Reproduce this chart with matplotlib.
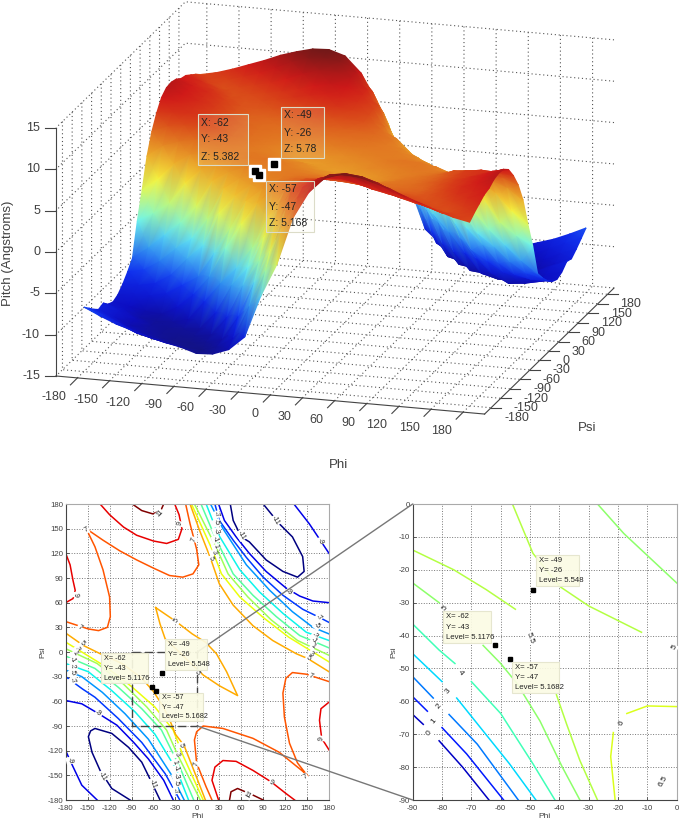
import numpy as np
import matplotlib
matplotlib.use('Agg')
import matplotlib.pyplot as plt
from matplotlib.colors import LinearSegmentedColormap, Normalize
from matplotlib.patches import ConnectionPatch, Rectangle
from mpl_toolkits.mplot3d import proj3d

plt.rcParams['font.family'] = ['Liberation Sans', 'DejaVu Sans']
plt.rcParams['axes.unicode_minus'] = False

W, H = 681, 821
TEXT = '#404040'

phi = [-180, -165, -150, -135, -120, -105, -90, -75, -60, -45, -30, -15, 0,
       15, 30, 45, 60, 75, 90, 105, 120, 135, 150, 165, 180]
psi = list(phi)
pitch = [
    [-7.2, -8.1, -8.9, -9.5, -10.1, -10.6, -11, -11.6, -11.5, -10.8, -9.1, -4, 0, 5.8, 9.1, 11, 11.6, 11.5, 11, 10.4, 9.6, 8.9, 8.2, 7.6, 7.2],
    [-7.9, -8.7, -9.5, -10.4, -10.9, -11.3, -11.6, -11.8, -11.2, -10, -6, -1.6, 3.8, 7.6, 9.7, 10.8, 11.1, 10.9, 10.3, 9.4, 8.6, 8, 7.4, 7.4, 7.8],
    [-8.6, -9.4, -10.3, -10.9, -11.3, -11.6, -11.7, -11.4, -10.9, -8, -3.7, 0.4, 5.7, 8.3, 9.6, 10.2, 10.2, 9.6, 8.8, 8.2, 7.7, 7.3, 7, 7.6, 8.3],
    [-9.2, -10, -10.8, -11.1, -11.4, -11.5, -11.4, -11.1, -8.8, -4.8, -1.7, 3.3, 7.2, 8.3, 9.1, 9.3, 8.9, 8.3, 7.9, 7.5, 7.2, 7, 7.5, 8.2, 8.8],
    [-9, -9.8, -10.6, -11.2, -11.4, -11.3, -11.1, -9, -5.5, -3.2, 0.7, 5, 7.3, 8, 8.5, 8.6, 8.3, 7.9, 7.4, 7.1, 6.9, 7.2, 7.9, 8.4, 9],
    [-9.7, -10.2, -11, -11.3, -11.2, -10.7, -8.4, -6, -4, -1.3, 2.7, 5.9, 7.2, 7.6, 7.9, 7.7, 7.3, 7, 6.8, 6.7, 6.9, 7.5, 8.2, 8.8, 9.5],
    [-10, -10.4, -10.8, -11, -10, -8.3, -6, -2.4, 0.8, 3.5, 5.3, 6.2, 6.9, 7.1, 7.05, 6.9, 6.7, 6.5, 6.4, 6.5, 6.9, 7.6, 8.2, 8.9, 9.7],
    [-9.7, -9.5, -9.5, -9.1, -7.9, -6.7, -3.7, -0.5, 3, 4.6, 5.7, 6.2, 6.4, 6.5, 6.5, 6.3, 6.2, 6.1, 6.2, 6.4, 7, 7.7, 8.3, 8.9, 9.6],
    [-9, -9, -8.6, -7.4, -5.3, -3.5, 0.6, 2.9, 4.4, 5.3, 5.65, 5.9, 5.95, 6, 6, 5.9, 5.9, 5.9, 6.1, 6.5, 7, 7.6, 8, 8.6, 9],
    [-8.1, -7.7, -6.5, -4.8, -3.4, -0.8, 3, 4.4, 5.2, 5.5, 5.6, 5.6, 5.6, 5.5, 5.2, 5, 5.5, 5.8, 6, 6.4, 6.9, 7.7, 8, 7.9, 7.7],
    [-7, -5.6, -3.9, -2.2, 0, 3.2, 4.4, 5.2, 5.45, 5.5, 5.5, 5.3, 5.1, 4.9, 4.9, 4.8, 5.2, 5.6, 5.9, 6.3, 7, 7.2, 7.1, 6.8, 6],
    [-3.1, -2, -0.6, 2, 3.9, 4.7, 5.4, 5.7, 5.8, 5.6, 5.2, 5, 4.85, 4.5, 4.3, 4.9, 5.3, 5.5, 5.7, 6, 6.1, 6.1, 5.7, 5, 3.6],
    [0.1, 1.6, 3.6, 4.9, 5.2, 5.5, 5.6, 5.7, 5.5, 5.2, 5.05, 4.6, 4.3, 4.6, 5.05, 5.2, 5.5, 5.7, 5.6, 5.5, 5.2, 4.9, 3.6, 1.6, 0.1],
    [3.6, 5, 5.7, 6.1, 6.1, 6, 5.7, 5.5, 5.3, 4.9, 4.3, 4.5, 4.85, 5, 5.2, 5.6, 5.8, 5.7, 5.4, 4.7, 3.9, 2, -0.6, -2, -3.1],
    [6, 6.8, 7.1, 7.2, 7, 6.3, 5.9, 5.6, 5.2, 4.8, 4.9, 4.9, 5.1, 5.3, 5.5, 5.5, 5.45, 5.2, 4.4, 3.2, 0, -2.2, -3.9, -5.6, -7],
    [7.7, 7.9, 8, 7.7, 6.9, 6.4, 6, 5.8, 5.5, 5, 5.2, 5.5, 5.6, 5.6, 5.6, 5.5, 5.2, 4.4, 3, -0.8, -3.4, -4.8, -6.5, -7.7, -8.1],
    [9, 8.6, 8, 7.6, 7, 6.5, 6.1, 5.9, 5.9, 5.9, 6, 6, 5.95, 5.9, 5.65, 5.3, 4.4, 2.9, 0.6, -3.5, -5.3, -7.4, -8.6, -9, -9],
    [9.6, 8.9, 8.3, 7.7, 7, 6.4, 6.2, 6.1, 6.2, 6.3, 6.5, 6.5, 6.4, 6.2, 5.7, 4.6, 3, -0.5, -3.7, -6.7, -7.9, -9.1, -9.5, -9.5, -9.7],
    [9.7, 8.9, 8.2, 7.6, 6.9, 6.5, 6.4, 6.5, 6.7, 6.9, 7.05, 7.1, 6.9, 6.2, 5.3, 3.5, 0.8, -2.4, -6, -8.3, -10, -11, -10.8, -10.4, -10],
    [9.5, 8.8, 8.2, 7.5, 6.9, 6.7, 6.8, 7, 7.3, 7.7, 7.9, 7.6, 7.2, 5.9, 2.7, -1.3, -4, -6, -8.4, -10.7, -11.2, -11.3, -11, -10.2, -9.7],
    [9, 8.4, 7.9, 7.2, 6.9, 7.1, 7.4, 7.9, 8.3, 8.6, 8.5, 8, 7.3, 5, 0.7, -3.2, -5.5, -9, -11.1, -11.3, -11.4, -11.2, -10.6, -9.8, -9],
    [8.8, 8.2, 7.5, 7, 7.2, 7.5, 7.9, 8.3, 8.9, 9.3, 9.1, 8.3, 7.2, 3.3, -1.7, -4.8, -8.8, -11.1, -11.4, -11.5, -11.4, -11.1, -10.8, -10, -9.2],
    [8.3, 7.6, 7, 7.3, 7.7, 8.2, 8.8, 9.6, 10.2, 10.2, 9.6, 8.3, 5.7, 0.4, -3.7, -8, -10.9, -11.4, -11.7, -11.6, -11.3, -10.9, -10.3, -9.4, -8.6],
    [7.8, 7.4, 7.4, 8, 8.6, 9.4, 10.3, 10.9, 11.1, 10.8, 9.7, 7.6, 3.8, -1.6, -6, -10, -11.2, -11.8, -11.6, -11.3, -10.9, -10.4, -9.5, -8.7, -7.9],
    [7.2, 7.6, 8.2, 8.9, 9.6, 10.4, 11, 11.5, 11.6, 11, 9.1, 5.8, 0, -4, -9.1, -10.8, -11.5, -11.6, -11, -10.6, -10.1, -9.5, -8.9, -8.1, -7.2],
]

# colours of the surface at these heights
surf_z = [-12, -10.5, -8, -6, -4, -3, -1.5, 0, 1.5, 3, 4.5, 6, 7.5, 9, 10.5, 11.8]
surf_colors = ['#14147a', '#0c0cc0', '#1030f0', '#2f8ff0', '#55d0f5', '#70f8f0', '#a0f8a0', '#d8f860',
               '#f8f840', '#f0c030', '#e89a28', '#e07020', '#d84018', '#d01818', '#a01818', '#681818']

# picked points
tip_phi = [-62, -49, -57]
tip_psi = [-43, -26, -47]
tip_z = [5.382, 5.78, 5.168]

ticks_30 = [-180, -150, -120, -90, -60, -30, 0, 30, 60, 90, 120, 150, 180]
ticks_10 = [-90, -80, -70, -60, -50, -40, -30, -20, -10, 0]
ticks_z = [-15, -10, -5, 0, 5, 10, 15]

# contour lines of the left map, (phi, psi)
m11_ll = [(-92, -180), (-117, -166), (-133, -144), (-144, -122), (-149, -103), (-146, -96), (-140, -93), (-117, -99), (-94, -116), (-76, -134), (-65, -154), (-51, -180)]
m9_ll_a = [(-180, -59), (-158, -63), (-135, -75), (-110, -89), (-87, -110), (-67, -130), (-46, -156), (-33, -180)]
m9_ll_b = [(-180, -120), (-174, -132), (-158, -162), (-137, -180)]
m7_ll = [(-180, -30), (-157, -45), (-140, -55), (-108, -81), (-76, -110), (-44, -148), (-24, -180)]
m5_ll = [(-180, -22), (-158, -30), (-130, -49), (-99, -75), (-67, -106), (-35, -150), (-18, -180)]
m3_ll = [(-180, -14), (-149, -24), (-117, -47), (-85, -73), (-58, -100), (-28, -144), (-12, -180)]
m1_ll = [(-180, -5), (-140, -20), (-108, -43), (-76, -69), (-49, -95), (-24, -140), (-5, -180)]
p1_ll = [(-180, 4), (-137, -14), (-101, -39), (-69, -67), (-42, -95), (-27, -125), (4, -180)]
p3_ll = [(-180, 12), (-125, -18), (-90, -42), (-58, -67), (-33, -95), (-20, -125), (8, -180)]
p5_ll = [(-180, 23), (-156, 8), (-133, -2), (-103, -14), (-76, -32), (-60, -48), (-47, -66), (-39, -80), (-30, -100), (-18, -114), (-3, -148), (11, -180)]
p5_ur = [(-10, 180), (3, 148), (18, 114), (30, 83), (49, 57), (76, 32), (103, 14), (135, -2), (151, -8), (180, -24)]
p3_ur = [(-8, 180), (20, 125), (33, 95), (58, 67), (90, 42), (125, 18), (180, -12)]
p1_ur = [(-4, 180), (27, 125), (42, 95), (69, 67), (101, 39), (137, 14), (180, -4)]
m1_ur = [(5, 180), (24, 140), (49, 95), (76, 69), (108, 43), (140, 20), (180, 5)]
m3_ur = [(12, 180), (28, 144), (58, 100), (85, 73), (117, 47), (149, 24), (180, 14)]
m5_ur = [(18, 180), (35, 150), (67, 106), (99, 75), (130, 49), (158, 30), (180, 22)]
m7_ur = [(24, 180), (30, 160), (49, 136), (67, 115), (90, 91), (117, 69), (144, 52), (167, 42), (180, 36)]
m9_ur_a = [(29, 180), (37, 160), (53, 140), (71, 120), (94, 98), (121, 78), (140, 68), (158, 62), (180, 60)]
m9_ur_b = [(132, 180), (153, 156), (165, 140), (180, 120)]
m11_ur = [(45, 180), (49, 160), (60, 140), (71, 134), (94, 112), (117, 98), (137, 91), (146, 98), (144, 116), (130, 140), (112, 156), (90, 180)]
p7_up = [(-16, 180), (-10, 156), (-1, 125), (2, 106), (-6, 95), (-20, 91), (-38, 93), (-60, 102), (-83, 112), (-106, 123), (-129, 136), (-152, 150), (-140, 128), (-129, 100), (-120, 67), (-119, 43), (-123, 30), (-135, 26), (-149, 28), (-180, 37)]
p7_lo = [(20, -180), (12, -164), (-1, -135), (-4, -107), (-1, -97), (8, -90), (35, -93), (76, -105), (112, -122), (144, -145), (151, -151), (137, -135), (126, -111), (119, -79), (117, -50), (121, -32), (130, -25), (149, -27), (180, -36)]
p9_ul = [(-180, 120), (-174, 106), (-170, 87), (-167, 75), (-170, 65), (-180, 60)]
p9_lr = [(180, -61), (169, -69), (167, -83), (170, -105), (180, -119)]
p9_top = [(-133, 180), (-120, 167), (-101, 152), (-83, 142), (-60, 135), (-42, 132), (-26, 137), (-21, 150), (-25, 167), (-31, 180)]
p9_bot = [(29, -180), (20, -156), (24, -140), (35, -132), (53, -133), (76, -144), (101, -158), (121, -172), (133, -180)]
p11_top = [(-89, 180), (-76, 172), (-61, 168), (-50, 172), (-46, 180)]
p11_bot = [(44, -180), (46, -170), (55, -166), (76, -174), (90, -180)]
p5_loop = [(-57, 54), (-29, 37), (-7, 22), (11, 12), (26, -2), (40, -24), (55, -53), (30, -41), (8, -28), (-11, -12), (-26, 1), (-44, 16), (-51, 34), (-57, 54)]

left_lines = [(-11, m11_ll), (-11, m11_ur), (-9, m9_ll_a), (-9, m9_ll_b), (-9, m9_ur_a), (-9, m9_ur_b),
              (-7, m7_ll), (-7, m7_ur), (-5, m5_ll), (-5, m5_ur), (-3, m3_ll), (-3, m3_ur), (-1, m1_ll), (-1, m1_ur),
              (1, p1_ll), (1, p1_ur), (3, p3_ll), (3, p3_ur), (5, p5_ll), (5, p5_ur), (5, p5_loop),
              (7, p7_up), (7, p7_lo), (9, p9_ul), (9, p9_lr), (9, p9_top), (9, p9_bot), (11, p11_top), (11, p11_bot)]

# contour lines of the zoomed map
z0_a = [(-90, -64), (-86.4, -67)]
z0_b = [(-81, -72), (-73, -80), (-64, -90)]
z1_a = [(-90, -58.6), (-85, -63)]
z1_b = [(-80, -68), (-71.6, -76), (-59, -90)]
z2_a = [(-90, -52.5), (-83, -59)]
z2_b = [(-77.6, -64), (-68, -73), (-54, -90)]
z3_a = [(-90, -45.5), (-80, -54)]
z3_b = [(-75, -59), (-66, -69), (-57, -79), (-48, -90)]
z4_a = [(-90, -36.5), (-81, -44.4), (-75.6, -48.5)]
z4_b = [(-70, -54), (-60, -63.7), (-49, -79), (-41.5, -90)]
z5_a = [(-90, -24), (-81, -30)]
z5_b = [(-66, -43), (-60, -48.5), (-54.5, -54.5), (-46.6, -66), (-39, -80), (-33, -90)]
z5_c = [(-27, 0), (-18, -9), (0, -24)]
z55_a = [(-90, -14), (-76, -20), (-65, -26), (-55, -32)]
z55_b = [(-41, -58), (-37.5, -67), (-33, -78), (-27, -90)]
z55_c = [(-56, 0), (-49, -15), (-40, -25), (-30, -31), (-12, -39)]
z6_a = [(-21, -90), (-22.5, -76.8), (-21.6, -69.5)]
z6_b = [(-17, -63.7), (-10, -61.4), (0, -61.6)]

zoom_lines = [(0, z0_a), (0, z0_b), (1, z1_a), (1, z1_b), (2, z2_a), (2, z2_b), (3, z3_a), (3, z3_b),
              (4, z4_a), (4, z4_b), (5, z5_a), (5, z5_b), (5, z5_c), (5.5, z55_a), (5.5, z55_b), (5.5, z55_c),
              (6, z6_a), (6, z6_b)]


def fx(px):
    return px / W


def fy(py):
    return 1 - py / H


def tip_box(x0, y0, x1, y1, lines, size, alpha, edge):
    fig.add_artist(Rectangle((fx(x0), fy(y1)), (x1 - x0) / W, (y1 - y0) / H, transform=fig.transFigure,
                             facecolor='#fbfbe4', alpha=alpha, edgecolor='none', zorder=10))
    fig.add_artist(Rectangle((fx(x0), fy(y1)), (x1 - x0) / W, (y1 - y0) / H, transform=fig.transFigure,
                             facecolor='none', edgecolor=edge, lw=0.8, zorder=10))
    step = (y1 - y0) / len(lines)
    for i, line in enumerate(lines):
        fig.text(fx(x0 + 3), fy(y0 + step * (i + 0.5)), line, fontsize=size, color='#222222',
                 va='center', ha='left', zorder=11)


def clabel(ax, x, y, text, rot, size=5):
    ax.text(x, y, text, fontsize=size, rotation=rot, ha='center', va='center', color='#222222', zorder=4,
            bbox=dict(facecolor='white', edgecolor='none', pad=0.4))


def style_map(ax, xt, yt):
    ax.set_xticks(xt)
    ax.set_yticks(yt)
    ax.tick_params(labelsize=5.6, length=2, direction='in', colors=TEXT, width=0.6)
    ax.tick_params(axis='x', pad=3.5)
    ax.tick_params(axis='y', pad=2)
    ax.grid(True, linestyle=':', color='#777777', linewidth=0.7)
    ax.set_axisbelow(True)
    ax.spines['left'].set_color('#444444')
    ax.spines['bottom'].set_color('#444444')
    ax.spines['top'].set_color('#aaaaaa')
    ax.spines['right'].set_color('#aaaaaa')
    ax.set_xlabel('Phi', fontsize=6, color=TEXT, labelpad=0.5)
    ax.set_ylabel('Psi', fontsize=6, color=TEXT, labelpad=1)


fig = plt.figure(figsize=(W / 100, H / 100), dpi=100)

# ---- surface box ----
S = 700
ax3 = fig.add_axes([0, 0.2, S / W, S / H], projection='3d', proj_type='ortho')
ax3.patch.set_alpha(0)
ax3.view_init(elev=17.1, azim=-73.2)
ax3.set_box_aspect((1, 1, 0.58))
ax3.set_xlim(-200, 200)
ax3.set_ylim(-200, 200)
ax3.set_zlim(-15, 15)
ax3.set_xticks(ticks_30)
ax3.set_yticks(ticks_30)
ax3.set_zticks(ticks_z)
ax3.set_xticklabels([])
ax3.set_yticklabels([])
ax3.set_zticklabels([])
for axis in (ax3.xaxis, ax3.yaxis, ax3.zaxis):
    axis.pane.fill = False
    axis.pane.set_edgecolor('none')
    axis.line.set_color('#444444')
    axis._axinfo['grid'].update(color='#555555', linewidth=0.8, linestyle=(0, (1, 2.5)))
    axis._axinfo['tick'].update(inward_factor=0, outward_factor=0)
ax3.zaxis.set_ticks_position('lower')


def project(x, y, z):
    xs, ys, _ = proj3d.proj_transform(np.ravel(x), np.ravel(y), np.ravel(z), ax3.get_proj())
    return ax3.transData.transform(np.column_stack([xs, ys]))


# scale and shift the box onto the picture
fig.canvas.draw()
span = project(200, 200, -15)[0, 0] - project(-200, -200, -15)[0, 0]
S = S * 558 / span
ax3.set_position([0, 0.2, S / W, S / H])
fig.canvas.draw()
a = project(-200, -200, -15)[0]
ax3.set_position([(56 - a[0]) / W, 0.2 + ((821 - 376) - a[1]) / H, S / W, S / H])
fig.canvas.draw()

# overlay in pixels, y up: gouraud mesh drawn back row first so near rows cover far ones
over = fig.add_axes([0, 0, 1, 1], zorder=3)
over.set_xlim(0, W)
over.set_ylim(0, H)
over.axis('off')
over.patch.set_alpha(0)

PHI, PSI = np.meshgrid(phi, psi)
Z = np.array(pitch)
verts = project(PHI, PSI, Z)
sx = verts[:, 0].reshape(Z.shape)[::-1]
sy = verts[:, 1].reshape(Z.shape)[::-1]
surf_cmap = LinearSegmentedColormap.from_list('pitch', [((v + 12) / 23.8, c) for v, c in zip(surf_z, surf_colors)])
over.pcolormesh(sx, sy, Z[::-1], shading='gouraud', cmap=surf_cmap, norm=Normalize(-12, 11.8))

tips = project(tip_phi, tip_psi, tip_z)
over.plot(tips[:, 0], tips[:, 1], ls='none', marker='s', ms=8, color='white')
over.plot(tips[:, 0], tips[:, 1], ls='none', marker='s', ms=5, color='black')

# ticks and labels of the box
for t in ticks_30:
    p = project(t, -200, -15)[0]
    over.plot([p[0], p[0] - 7], [p[1], p[1] - 7], color='#444444', lw=0.8)
    over.text(p[0] - 11.5, p[1] - 19, str(t), fontsize=9, color=TEXT, ha='right', va='center')
    p = project(200, t, -15)[0]
    over.plot([p[0], p[0] + 10], [p[1], p[1]], color='#444444', lw=0.8)
    over.text(p[0] + 13, p[1] - 10, str(t), fontsize=9, color=TEXT, ha='left', va='center')
for t in ticks_z:
    p = project(-200, -200, t)[0]
    over.plot([p[0], p[0] - 11], [p[1], p[1]], color='#444444', lw=0.8)
    over.text(p[0] - 16, p[1], str(t), fontsize=9, color=TEXT, ha='right', va='center')

fig.text(fx(8), fy(253), 'Pitch (Angstroms)', rotation=90, fontsize=9.5, color=TEXT, ha='center', va='center')
fig.text(fx(338), fy(465), 'Phi', fontsize=9.5, color=TEXT, ha='center', va='center')
fig.text(fx(587), fy(428), 'Psi', fontsize=9.5, color=TEXT, ha='center', va='center')

tip_box(198, 114, 248, 165, ['X: -62', 'Y: -43', 'Z: 5.382'], 7.5, 0.12, '#dcdcc8')
tip_box(281, 107, 324, 158, ['X: -49', 'Y: -26', 'Z: 5.78'], 7.5, 0.12, '#dcdcc8')
tip_box(266, 181, 314, 232, ['X: -57', 'Y: -47', 'Z: 5.168'], 7.5, 0.12, '#dcdcc8')

# ---- contour maps ----
axl = fig.add_axes([65.7 / W, 1 - 800 / H, 263.3 / W, 296 / H])
axr = fig.add_axes([412.7 / W, 1 - 800 / H, 264 / W, 296 / H])
jet = plt.get_cmap('jet')

for level, pts in left_lines:
    xs, ys = zip(*pts)
    axl.plot(xs, ys, color=jet((level + 11) / 22), lw=1.1, zorder=2, solid_joinstyle='round')
for level, pts in zoom_lines:
    xs, ys = zip(*pts)
    axr.plot(xs, ys, color=jet(0.06 + level / 6.5 * 0.6), lw=1.1, zorder=2, solid_joinstyle='round')

axl.set_xlim(-180, 180)
axl.set_ylim(-180, 180)
axr.set_xlim(-90, 0)
axr.set_ylim(-90, 0)
style_map(axl, ticks_30, ticks_30)
style_map(axr, ticks_10, ticks_10)

for ax in (axl, axr):
    ax.plot(tip_phi, tip_psi, ls='none', marker='s', ms=3.5, color='black', zorder=6)

axl.plot([-90, 0, 0, -90, -90], [0, 0, -90, -90, 0], color='#444444', lw=1, ls=(0, (6, 3)), zorder=3)

for x, y, t, r in [(-167, 70, '9', -85), (-51, 168, '11', 45), (-24, 156, '9', 70), (-5, 137, '7', 70),
                   (-152, 149, '7', 30), (-161, 30, '7', -30), (-29, 38, '5', 55), (-158, 10, '5', -45),
                   (-165, 4, '3', -60), (-167, -1, '1', -60), (-170, -10, '-1', -60), (-170, -18, '-3', -60),
                   (-170, -25, '-5', -60), (-170, -35, '-7', -60),
                   (26, 167, '-7', -70), (26, 157, '-5', -70), (26, 147, '-3', -70), (25, 137, '-1', -70),
                   (25, 128, '1', -70), (22, 121, '3', -70), (18, 114, '5', -70),
                   (60, 142, '-11', -60), (107, 160, '-11', -60), (168, 135, '-9', -70), (126, 73, '-9', -30),
                   (166, 42, '-7', -40), (164, 32, '-5', -40), (161, 20, '-3', -40), (160, 14, '-1', -40),
                   (158, 7, '1', -40), (155, -2, '3', -40), (151, -8, '5', -40),
                   (155, -30, '7', -20), (170, -105, '9', 80), (148, -152, '7', 30), (101, -159, '9', -30),
                   (69, -174, '11', -30), (-1, -136, '7', 80), (-22, -113, '5', -70), (-28, -125, '3', -70),
                   (-31, -134, '1', -70), (-29, -142, '-1', -70), (-29, -152, '-3', -70), (-29, -160, '-5', -70),
                   (-31, -169, '-7', -70), (-1, -25, '5', -70), (-135, -75, '-9', -30), (-174, -132, '-9', -75),
                   (-130, -151, '-11', -60), (-61, -160, '-11', -70)]:
    clabel(axl, x, y, t, r)

for x, y, t, r in [(-84.3, -69.8, '0', 50), (-83, -66, '1', 50), (-81, -61.6, '2', 50), (-78, -56.8, '3', 50),
                   (-73.6, -51.3, '4', -50), (-79, -31.7, '5', 50), (-50, -40.8, '5.5', -70), (-0.9, -43.6, '5', 60),
                   (-18.8, -66.8, '6', 60), (-4.5, -84.4, '6.5', 60)]:
    clabel(axr, x, y, t, r, size=6)

for ya, yb in [(0, 0), (-90, -90)]:
    fig.add_artist(ConnectionPatch(xyA=(0, ya), coordsA=axl.transData, xyB=(-90, yb), coordsB=axr.transData,
                                   color='#777777', lw=1, zorder=9))

tip_box(101, 653, 148, 683, ['X= -62', 'Y= -43', 'Level= 5.1176'], 5.2, 0.92, '#e6e6cf')
tip_box(165, 639, 207, 670, ['X= -49', 'Y= -26', 'Level= 5.548'], 5.2, 0.92, '#e6e6cf')
tip_box(159, 693, 203, 721, ['X= -57', 'Y= -47', 'Level= 5.1682'], 5.2, 0.92, '#e6e6cf')
tip_box(536, 555, 579, 586, ['X= -49', 'Y= -26', 'Level= 5.548'], 5.6, 0.92, '#e6e6cf')
tip_box(443, 611, 491, 643, ['X= -62', 'Y= -43', 'Level= 5.1176'], 5.6, 0.92, '#e6e6cf')
tip_box(512, 662, 559, 693, ['X= -57', 'Y= -47', 'Level= 5.1682'], 5.6, 0.92, '#e6e6cf')

fig.savefig('out.png', dpi=100)
